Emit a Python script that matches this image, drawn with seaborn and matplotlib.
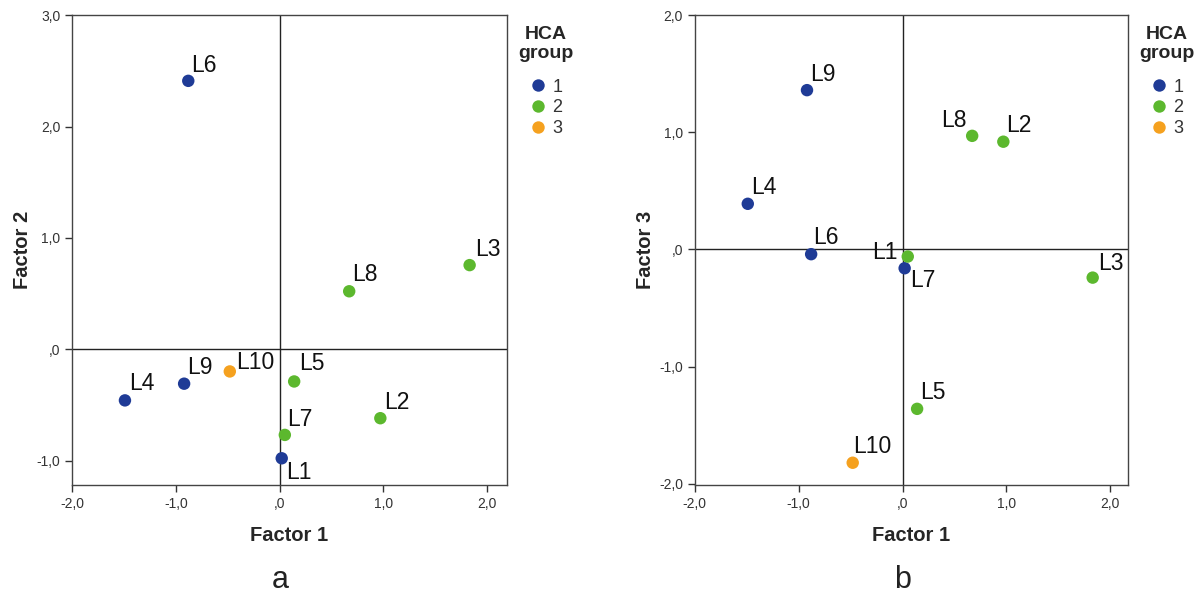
import pandas as pd
import matplotlib.pyplot as plt
import seaborn as sns

# Factor scores
labels = ['L1', 'L2', 'L3', 'L4', 'L5', 'L6', 'L7', 'L8', 'L9', 'L10']
factor1 = [0.02, 0.97, 1.83, -1.49, 0.14, -0.88, 0.05, 0.67, -0.92, -0.48]
factor2 = [-0.98, -0.62, 0.755, -0.46, -0.29, 2.41, -0.77, 0.52, -0.31, -0.20]
factor3 = [-0.16, 0.92, -0.24, 0.39, -1.36, -0.04, -0.06, 0.97, 1.36, -1.82]
hca_group = ['1', '2', '2', '1', '2', '1', '2', '2', '1', '3']

group_colors = {'1': '#1f3b96', '2': '#5cb82e', '3': '#f5a11f'}

# label offsets in pixels (dx, dy, ha) so names sit where they do in the figure
offs_a = {'L1': (4, -21, 'left'), 'L2': (4, 9, 'left'), 'L3': (5, 9, 'left'),
          'L4': (4, 10, 'left'), 'L5': (5, 11, 'left'), 'L6': (3, 9, 'left'),
          'L7': (2, 9, 'left'), 'L8': (3, 10, 'left'), 'L9': (3, 10, 'left'),
          'L10': (6, 2, 'left')}
offs_b = {'L1': (-7, 9, 'right'), 'L2': (3, 10, 'left'), 'L3': (5, 8, 'left'),
          'L4': (3, 10, 'left'), 'L5': (3, 10, 'left'), 'L6': (2, 10, 'left'),
          'L7': (2, -30, 'left'), 'L8': (-6, 9, 'right'), 'L9': (3, 9, 'left'),
          'L10': (0, 10, 'left')}

df = pd.DataFrame({'label': labels, 'Factor 1': factor1, 'Factor 2': factor2,
                   'Factor 3': factor3, 'group': hca_group})

sns.set_style('ticks')
plt.rcParams['font.family'] = ['Liberation Sans', 'DejaVu Sans']


def comma(v):
    s = f'{v:.1f}'.replace('.', ',')
    if s.startswith('0,'):
        s = s[1:]
    if s == '-0,0':
        s = ',0'
    return s


def panel(ax, ycol, xlim, ylim, yticks, offs):
    ax.axhline(0, color='#222222', lw=1, zorder=1)
    ax.axvline(0, color='#222222', lw=1, zorder=1)
    sns.scatterplot(data=df, x='Factor 1', y=ycol, hue='group', hue_order=['1', '2', '3'],
                    palette=group_colors, s=80, linewidth=0, ax=ax, zorder=3)
    for _, r in df.iterrows():
        dx, dy, ha = offs[r['label']]
        ax.annotate(r['label'], (r['Factor 1'], r[ycol]), xytext=(dx, dy),
                    textcoords='offset pixels', ha=ha, va='baseline',
                    fontsize=16.5, color='#111111')
    ax.set_xlim(xlim)
    ax.set_ylim(ylim)
    xt = [-2.0, -1.0, 0.0, 1.0, 2.0]
    ax.set_xticks(xt)
    ax.set_xticklabels([comma(v) for v in xt])
    ax.set_yticks(yticks)
    ax.set_yticklabels([comma(v) for v in yticks])
    ax.tick_params(direction='out', length=5, width=1, labelsize=10,
                   colors='#333333', labelcolor='#333333')
    for sp in ax.spines.values():
        sp.set_visible(True)
        sp.set_color('#444444')
        sp.set_linewidth(1)
    ax.set_xlabel('Factor 1', fontsize=14.5, fontweight='bold', labelpad=11)
    ax.set_ylabel(ycol, fontsize=14.5, fontweight='bold', labelpad=3)
    sns.move_legend(ax, 'upper left', bbox_to_anchor=(1.0, 1.0), frameon=False,
                    title='HCA\ngroup', fontsize=13, title_fontsize=14,
                    handlelength=1.0, handletextpad=0.3, labelspacing=0.2,
                    borderaxespad=0, borderpad=0.6)
    leg = ax.get_legend()
    leg.get_title().set_fontweight('bold')
    leg.get_title().set_linespacing(1.15)
    leg.get_title().set_multialignment('center')
    leg._legend_box.sep = 12
    for t in leg.get_texts():
        t.set_color('#333333')


fig = plt.figure(figsize=(12, 5.97), dpi=100)
ax_a = fig.add_axes([0.06, 0.1876, 0.3625, 0.787])
ax_b = fig.add_axes([0.579, 0.1876, 0.361, 0.787])

panel(ax_a, 'Factor 2', (-2.0, 2.19), (-1.22, 3.0), [-1.0, 0.0, 1.0, 2.0, 3.0], offs_a)
panel(ax_b, 'Factor 3', (-2.0, 2.17), (-2.01, 2.0), [-2.0, -1.0, 0.0, 1.0, 2.0], offs_b)

fig.text(280 / 1200, 1 - 580 / 597, 'a', fontsize=22, ha='center', va='center', color='#222222')
fig.text(903 / 1200, 1 - 580 / 597, 'b', fontsize=22, ha='center', va='center', color='#222222')

fig.savefig('out.png', dpi=100)
